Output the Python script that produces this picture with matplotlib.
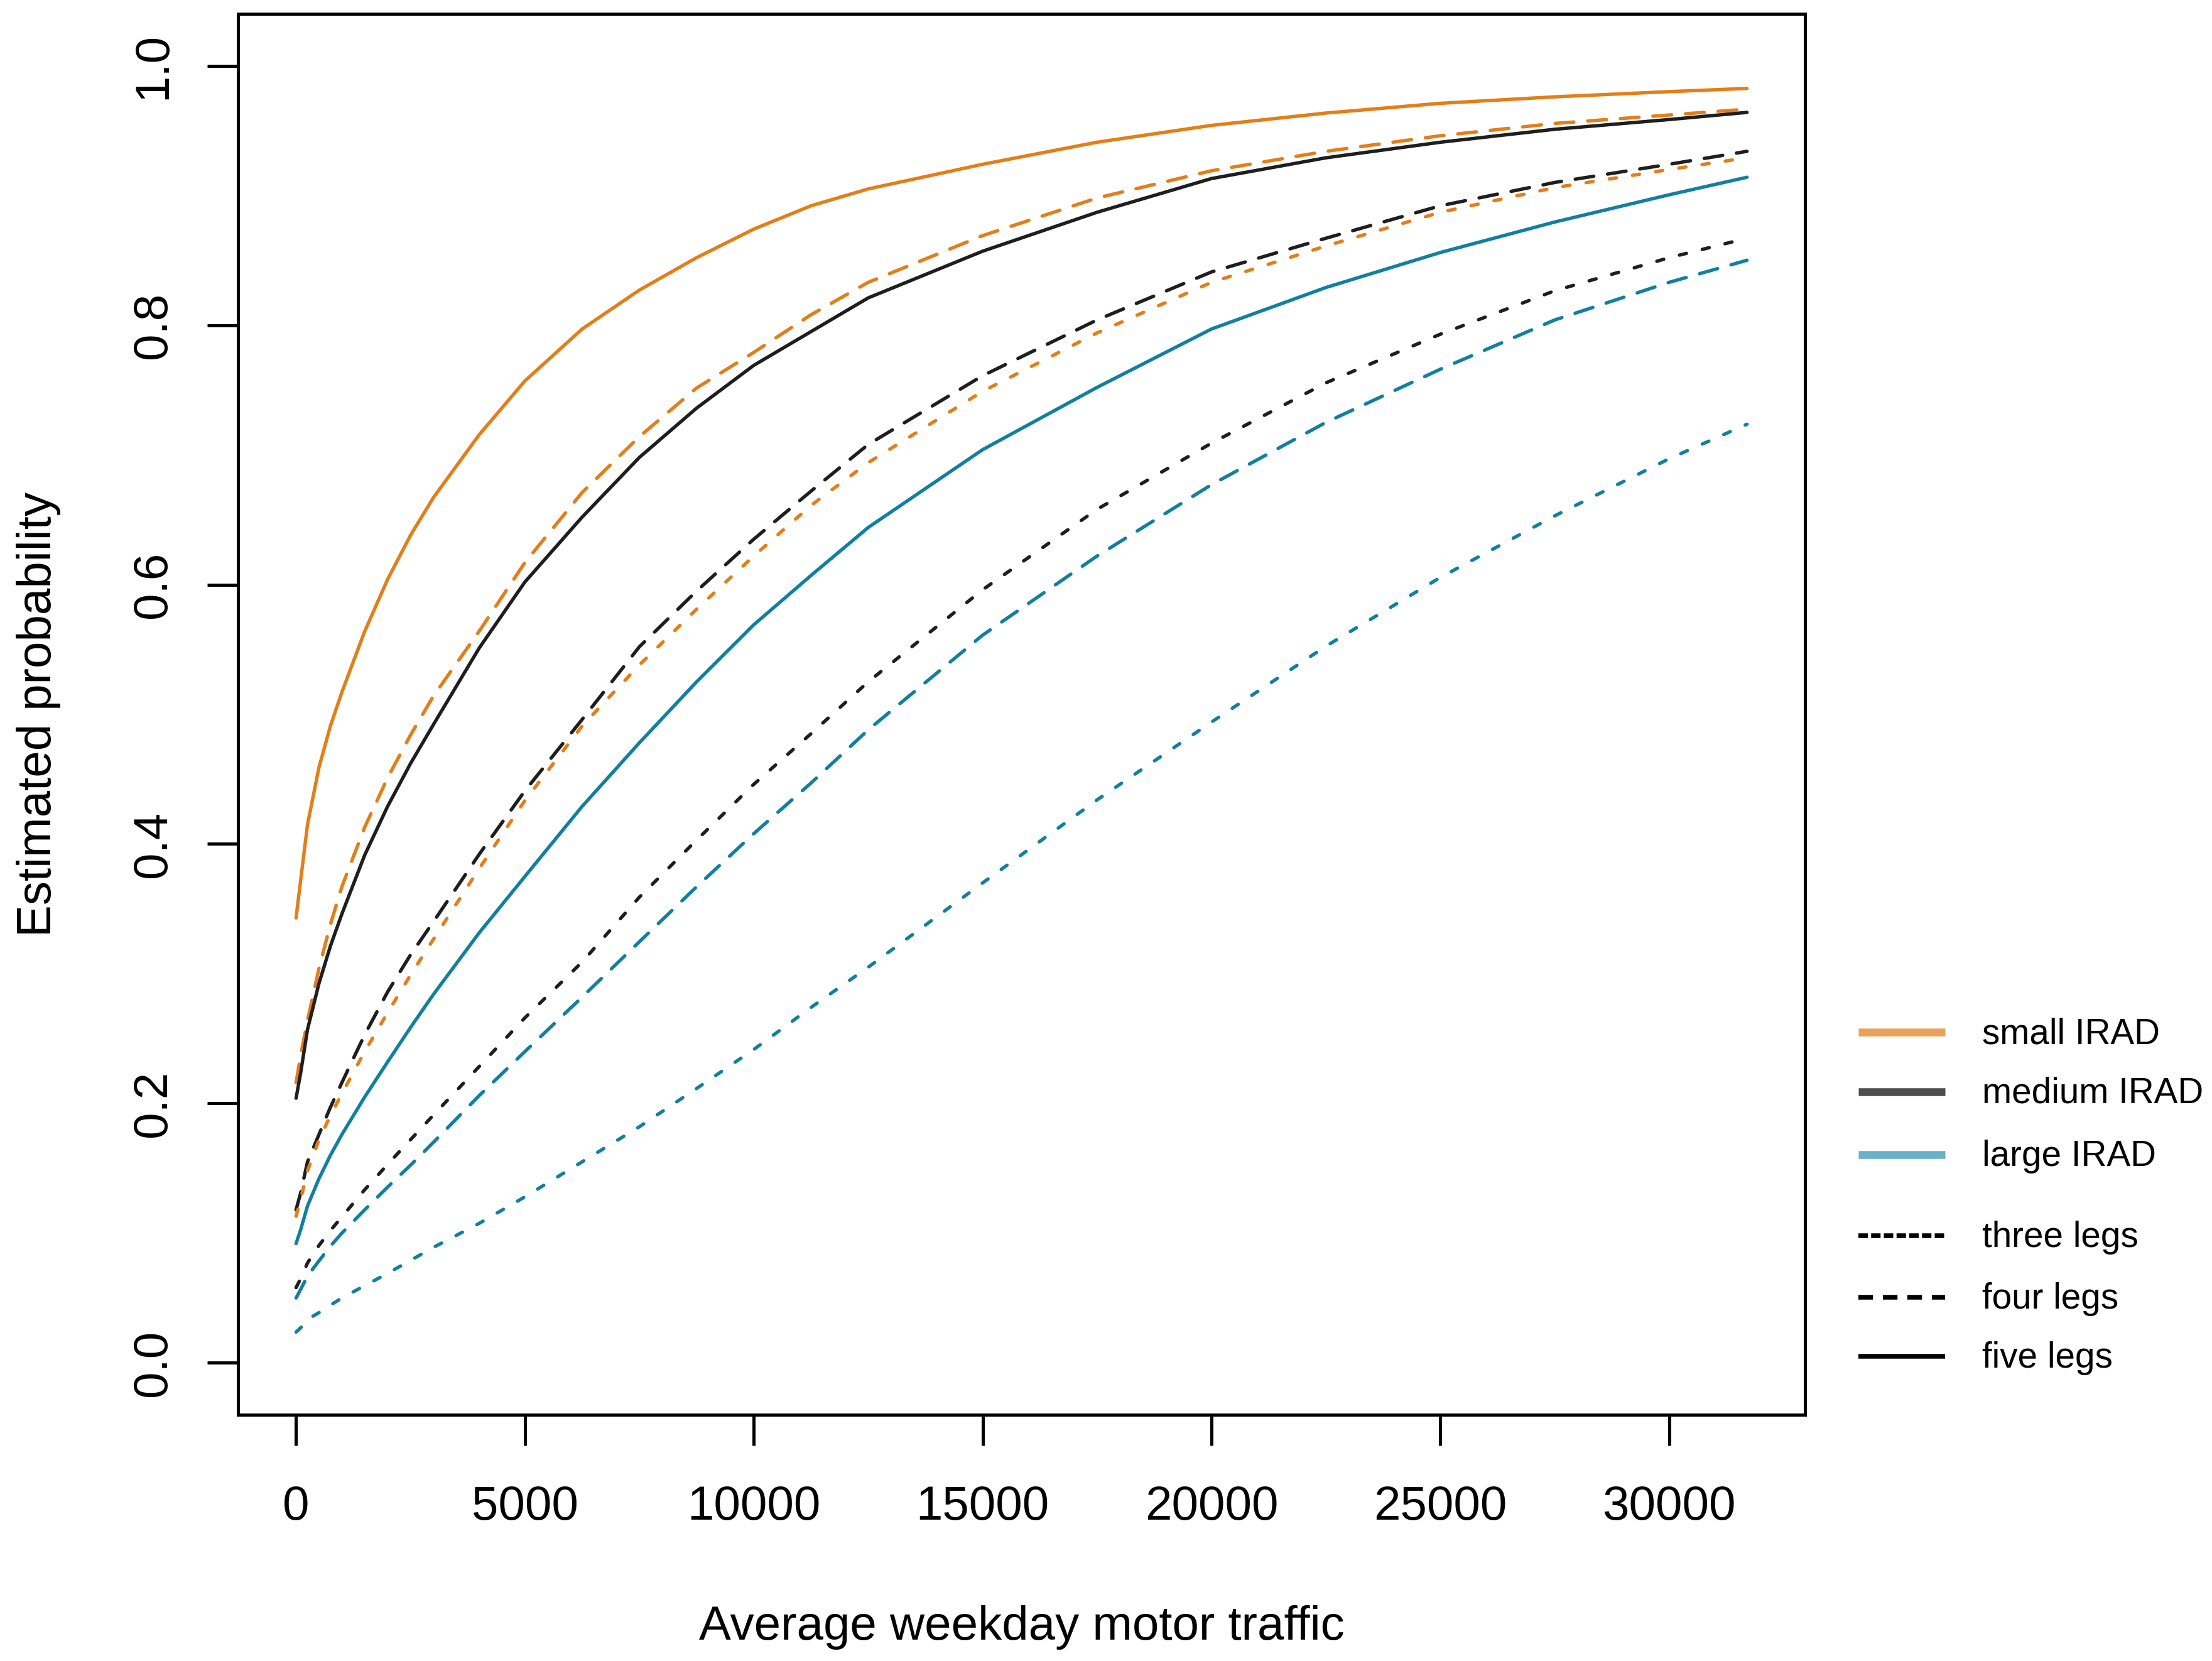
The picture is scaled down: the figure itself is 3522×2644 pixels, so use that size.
import matplotlib
matplotlib.use("Agg")
import matplotlib.pyplot as plt
from matplotlib.lines import Line2D

plt.rcParams['font.family'] = ['Liberation Sans', 'DejaVu Sans']

# values
traffic = [0, 100, 250, 500, 750, 1000, 1500, 2000, 2500, 3000, 4000, 5000, 6250, 7500,
           8750, 10000, 11250, 12500, 15000, 17500, 20000, 22500, 25000, 27500, 30000, 31700]

small_five = [0.343, 0.372, 0.415, 0.459, 0.491, 0.517, 0.564, 0.604, 0.638, 0.667, 0.7155,
              0.757, 0.797, 0.827, 0.852, 0.874, 0.892, 0.905,
              0.924, 0.941, 0.954, 0.9635, 0.971, 0.976, 0.980, 0.9825]
small_four = [0.216, 0.237, 0.264, 0.304, 0.338, 0.367, 0.413, 0.451, 0.484, 0.514, 0.564,
              0.617, 0.671, 0.714, 0.7515, 0.779, 0.808, 0.833,
              0.869, 0.898, 0.919, 0.934, 0.946, 0.9555, 0.962, 0.9665]
small_three = [0.113, 0.126, 0.148, 0.172, 0.1906, 0.2075, 0.240, 0.270, 0.299, 0.3265, 0.381,
               0.4335, 0.491, 0.538, 0.581, 0.622, 0.661, 0.694,
               0.749, 0.794, 0.833, 0.861, 0.887, 0.906, 0.920, 0.929]
medium_five = [0.204, 0.2235, 0.257, 0.2925, 0.3213, 0.346, 0.3915, 0.429, 0.462, 0.492, 0.551,
               0.602, 0.652, 0.698, 0.736, 0.769, 0.795, 0.821,
               0.857, 0.887, 0.913, 0.929, 0.941, 0.951, 0.9585, 0.964]
medium_four = [0.118, 0.131, 0.155, 0.176, 0.197, 0.216, 0.253, 0.286, 0.3145, 0.340, 0.392,
               0.441, 0.496, 0.552, 0.595, 0.635, 0.672, 0.708,
               0.761, 0.804, 0.841, 0.867, 0.892, 0.910, 0.924, 0.934]
medium_three = [0.058, 0.065, 0.077, 0.0905, 0.102, 0.1125, 0.1335, 0.153, 0.172, 0.191, 0.2284,
                0.266, 0.309, 0.359, 0.403, 0.446, 0.485, 0.525,
                0.596, 0.658, 0.709, 0.7555, 0.793, 0.8265, 0.852, 0.867]
large_five = [0.092, 0.1026, 0.121, 0.142, 0.160, 0.176, 0.205, 0.232, 0.2585, 0.284, 0.3315,
              0.375, 0.429, 0.478, 0.525, 0.569, 0.607, 0.644,
              0.704, 0.752, 0.797, 0.829, 0.856, 0.8795, 0.9005, 0.914]
large_four = [0.050, 0.0566, 0.067, 0.0786, 0.090, 0.100, 0.118, 0.1355, 0.1524, 0.170, 0.206,
              0.240, 0.282, 0.3246, 0.367, 0.408, 0.447, 0.488,
              0.561, 0.622, 0.677, 0.725, 0.766, 0.804, 0.833, 0.850]
large_three = [0.0237, 0.027, 0.0335, 0.0387, 0.0445, 0.050, 0.0595, 0.069, 0.079, 0.089, 0.1075,
               0.128, 0.155, 0.182, 0.2115, 0.2416, 0.274, 0.305,
               0.370, 0.434, 0.494, 0.5525, 0.6055, 0.653, 0.697, 0.7236]

x_ticks = [0, 5000, 10000, 15000, 20000, 25000, 30000]
y_ticks = [0.0, 0.2, 0.4, 0.6, 0.8, 1.0]
y_tick_labels = ["0.0", "0.2", "0.4", "0.6", "0.8", "1.0"]

irad_labels = ["small IRAD", "medium IRAD", "large IRAD"]
legs_labels = ["three legs", "four legs", "five legs"]

# styling
ORANGE, BLACK, BLUE = "#E37E18", "#1E1E1E", "#1180A0"
LEG_COLORS = ["#EAA25A", "#4D4D4D", "#6AB0C8"]
LW = 1.3
STYLES = {"three": (0, (2.1, 4.8)), "four": (0, (5.5, 4.1)), "five": "-"}
LEG_STYLES = [(0, (2.0, 0.7)), (0, (3.1, 2.1)), "-"]
FS = 18.3

W, H, DPI = 3522, 2644, 300
fig = plt.figure(figsize=(W / DPI, H / DPI), dpi=DPI)
ax = fig.add_axes([379 / W, 1 - 2252 / H, (2874 - 379) / W, (2252 - 22) / H])

series = [
    (small_five, ORANGE, "five"), (small_four, ORANGE, "four"),
    (medium_five, BLACK, "five"), (medium_four, BLACK, "four"),
    (small_three, ORANGE, "three"), (large_five, BLUE, "five"),
    (medium_three, BLACK, "three"), (large_four, BLUE, "four"),
    (large_three, BLUE, "three"),
]
for vals, col, legs in series:
    ax.plot(traffic, vals, color=col, lw=LW, linestyle=STYLES[legs],
            dash_capstyle="round", solid_capstyle="round", solid_joinstyle="round")

ax.set_xlim(-1268, 32968)
ax.set_ylim(-0.04, 1.04)
ax.set_xticks(x_ticks)
ax.set_xticklabels([str(t) for t in x_ticks])
ax.set_yticks(y_ticks)
ax.set_yticklabels(y_tick_labels, rotation=90, va="center")
ax.tick_params(length=11.8, width=1.2, labelsize=FS, direction="out")
ax.tick_params(axis="x", pad=15.0)
ax.tick_params(axis="y", pad=12.0)
for sp in ax.spines.values():
    sp.set_linewidth(1.2)

ax.set_xlabel("Average weekday motor traffic", fontsize=FS, va="center")
ax.xaxis.set_label_coords(0.5, (2252 - 2590) / 2230)
ax.set_ylabel("Estimated probability", fontsize=FS, va="center")
ax.yaxis.set_label_coords((62 - 379) / (2874 - 379), 0.5)

# legend outside the plot box, right side
x0, x1, xt = 2959 / W, 3097 / W, 3156 / W
for lab, col, y in zip(irad_labels, LEG_COLORS, [1643, 1738, 1838]):
    fig.add_artist(Line2D([x0, x1], [1 - y / H] * 2, transform=fig.transFigure,
                          color=col, lw=3.0, solid_capstyle="butt"))
    fig.text(xt, 1 - (y + 18) / H, lab, fontsize=13.6, va="baseline")
for lab, ls, y in zip(legs_labels, LEG_STYLES, [1967, 2065, 2159]):
    fig.add_artist(Line2D([x0, x1], [1 - y / H] * 2, transform=fig.transFigure,
                          color="black", lw=1.8, linestyle=ls,
                          dash_capstyle="butt", solid_capstyle="butt"))
    fig.text(xt, 1 - (y + 18) / H, lab, fontsize=13.6, va="baseline")

fig.savefig("out.png", dpi=DPI)
